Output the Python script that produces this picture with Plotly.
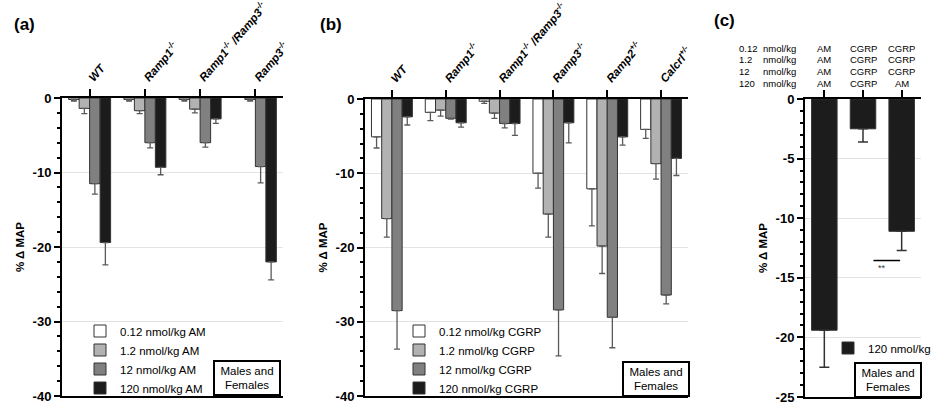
import plotly.graph_objects as go

# ---------------- data ----------------
genotypes_a = ["WT", "Ramp1-/-", "Ramp1-/- /Ramp3-/-", "Ramp3-/-"]
am_doses = ["0.12 nmol/kg AM", "1.2 nmol/kg AM", "12 nmol/kg AM", "120 nmol/kg AM"]
am_0_12 = [-0.2, -0.2, -0.2, None]
am_0_12_err = [0.2, 0.2, 0.2, 0]
am_1_2 = [-1.4, -1.7, -1.5, -0.2]
am_1_2_err = [0.7, 0.4, 0.5, 0.2]
am_12 = [-11.5, -6.0, -6.0, -9.2]
am_12_err = [1.4, 0.7, 0.6, 2.2]
am_120 = [-19.4, -9.3, -2.8, -22.0]
am_120_err = [3.0, 1.0, 0.6, 2.4]

genotypes_b = ["WT", "Ramp1-/-", "Ramp1-/- /Ramp3-/-", "Ramp3-/-", "Ramp2+/-", "Calcrl+/-"]
cgrp_doses = ["0.12 nmol/kg CGRP", "1.2 nmol/kg CGRP", "12 nmol/kg CGRP", "120 nmol/kg CGRP"]
cgrp_0_12 = [-5.1, -1.8, -0.3, -10.0, -12.1, -4.1]
cgrp_0_12_err = [1.5, 1.1, 0.3, 2.0, 5.0, 1.2]
cgrp_1_2 = [-16.1, -1.5, -1.9, -15.5, -19.8, -8.7]
cgrp_1_2_err = [2.5, 0.8, 0.7, 3.1, 3.7, 2.1]
cgrp_12 = [-28.5, -2.6, -3.3, -28.4, -29.4, -26.4]
cgrp_12_err = [5.2, 0.1, 0.6, 6.2, 4.1, 1.2]
cgrp_120 = [-2.4, -3.2, -3.3, -3.2, -5.1, -8.0]
cgrp_120_err = [1.1, 0.6, 1.6, 2.7, 1.1, 2.3]

protocols_c = ["AM", "CGRP", "CGRP+AM"]
header_doses = ["0.12", "1.2", "12", "120"]
header_col1 = ["AM", "AM", "AM", "AM"]
header_col2 = ["CGRP", "CGRP", "CGRP", "CGRP"]
header_col3 = ["CGRP", "CGRP", "CGRP", "AM"]
final_120 = [-19.4, -2.5, -11.1]
final_120_err = [3.1, 1.1, 1.6]
legend_c = "120 nmol/kg"

ticks_ab = [-40, -30, -20, -10, 0]
ticks_ab_text = ["-40", "-30", "-20", "-10", "0"]
ticks_c = [-25, -20, -15, -10, -5, 0]
ticks_c_text = ["-25", "-20", "-15", "-10", "-5", "0"]

# ---------------- style ----------------
W, H = 933, 408
FONT = "Liberation Sans, Arial, sans-serif"
FILLS = ["#ffffff", "#b2b2b2", "#808080", "#1c1c1c"]
OUTLINE = "#333333"
ERRC = "#5a5a5a"


def px(x):
    return x / W


def py(y):
    return 1 - y / H


def fmt(g):
    return g.replace("-/-", "<sup>-/-</sup>").replace("+/-", "<sup>+/-</sup>")


def err(e):
    return dict(type="data", symmetric=False, array=[0] * len(e), arrayminus=e,
                color=ERRC, thickness=1.3, width=3)


fig = go.Figure()

series_a = [(am_0_12, am_0_12_err), (am_1_2, am_1_2_err), (am_12, am_12_err), (am_120, am_120_err)]
for i, (vals, e) in enumerate(series_a):
    fig.add_trace(go.Bar(x=genotypes_a, y=vals, name=am_doses[i], error_y=err(e),
                         marker=dict(color=FILLS[i], line=dict(color=OUTLINE, width=1)),
                         xaxis="x", yaxis="y", legend="legend"))

series_b = [(cgrp_0_12, cgrp_0_12_err), (cgrp_1_2, cgrp_1_2_err), (cgrp_12, cgrp_12_err), (cgrp_120, cgrp_120_err)]
for i, (vals, e) in enumerate(series_b):
    fig.add_trace(go.Bar(x=genotypes_b, y=vals, name=cgrp_doses[i], error_y=err(e),
                         marker=dict(color=FILLS[i], line=dict(color=OUTLINE, width=1)),
                         xaxis="x2", yaxis="y2", legend="legend2"))

fig.add_trace(go.Bar(x=protocols_c, y=final_120, name=legend_c, width=0.66,
                     error_y=dict(type="data", symmetric=False, array=[0] * 3, arrayminus=final_120_err,
                                  color="#333333", thickness=1.5, width=5),
                     marker=dict(color=FILLS[3], line=dict(color=OUTLINE, width=1)),
                     xaxis="x3", yaxis="y3", legend="legend3"))

xcommon = dict(type="category", side="top", showline=True, linewidth=2, linecolor="black",
               mirror=True, ticks="outside", ticklen=7, tickwidth=2, tickcolor="black",
               showgrid=False, zeroline=False, tickangle=-50, automargin=False,
               tickfont=dict(family=FONT, size=11.5, color="black", weight="bold", style="italic"))

ycommon = dict(showline=True, linewidth=2, linecolor="black", ticks="outside", ticklen=6,
               tickwidth=2, tickcolor="black", showgrid=True, gridcolor="#e3e3e3", gridwidth=1,
               zeroline=False, automargin=False,
               tickfont=dict(family=FONT, size=13, color="black", weight="bold"),
               title=dict(text="% \u0394 MAP", font=dict(family=FONT, size=11.5, color="black", weight="bold"),
                          standoff=6))

fig.update_layout(
    width=W, height=H, margin=dict(l=0, r=0, t=0, b=0, autoexpand=False),
    paper_bgcolor="white", plot_bgcolor="white", template="plotly_white",
    barmode="group", bargap=0.24, bargroupgap=0,
    font=dict(family=FONT, color="black"),
    xaxis=dict(xcommon, domain=[px(62), px(283)], anchor="y",
               tickvals=genotypes_a, ticktext=[fmt(g) for g in genotypes_a]),
    yaxis=dict(ycommon, domain=[py(396), py(98)], anchor="x", range=[-40, 0],
               tickvals=ticks_ab, ticktext=ticks_ab_text,
               minor=dict(ticks="outside", ticklen=3, tickwidth=1.5, tickcolor="black", dtick=2, showgrid=False)),
    xaxis2=dict(xcommon, domain=[px(365), px(688)], anchor="y2",
                tickvals=genotypes_b, ticktext=[fmt(g) for g in genotypes_b]),
    yaxis2=dict(ycommon, domain=[py(396), py(99)], anchor="x2", range=[-40, 0],
                tickvals=ticks_ab, ticktext=ticks_ab_text,
                minor=dict(ticks="outside", ticklen=3, tickwidth=1.5, tickcolor="black", dtick=2, showgrid=False)),
    xaxis3=dict(xcommon, domain=[px(805), px(921)], anchor="y3", showticklabels=False),
    yaxis3=dict(ycommon, domain=[py(397), py(99)], anchor="x3", range=[-25, 0],
                tickvals=ticks_c, ticktext=ticks_c_text,
                minor=dict(ticks="outside", ticklen=3, tickwidth=1.5, tickcolor="black", dtick=1, showgrid=False)),
    legend=dict(x=px(80), y=py(359.5), xanchor="left", yanchor="middle", bgcolor="rgba(0,0,0,0)",
                font=dict(family=FONT, size=11.5, color="black"), traceorder="normal"),
    legend2=dict(x=px(399), y=py(359.5), xanchor="left", yanchor="middle", bgcolor="rgba(0,0,0,0)",
                 font=dict(family=FONT, size=11.5, color="black"), traceorder="normal"),
    legend3=dict(x=px(828), y=py(348), xanchor="left", yanchor="middle", bgcolor="rgba(0,0,0,0)",
                 font=dict(family=FONT, size=11.5, color="black")),
    showlegend=True,
)

annos = []
for txt, x, y in [("(a)", 24, 24), ("(b)", 331, 24), ("(c)", 724, 20)]:
    annos.append(dict(text=txt, x=px(x), y=py(y), xref="paper", yref="paper", showarrow=False,
                      xanchor="center", yanchor="middle",
                      font=dict(family=FONT, size=17, color="black", weight="bold")))

for cx, cy in [(247, 378), (655.5, 379), (888, 380)]:
    annos.append(dict(text="Males and<br>Females", x=px(cx), y=py(cy), xref="paper", yref="paper",
                      xanchor="center", yanchor="middle",
                      showarrow=False, bordercolor="black", borderwidth=2, borderpad=1,
                      width=62, height=30, bgcolor="white",
                      font=dict(family=FONT, size=11.5, color="black")))

row_y = [48, 59.7, 71.4, 83.1]
HFONT = dict(family=FONT, size=9.5, color="black")
for r in range(4):
    annos.append(dict(text=header_doses[r], x=px(738), y=py(row_y[r]), xref="paper", yref="paper",
                      xanchor="left", yanchor="middle", showarrow=False, borderpad=0, font=HFONT))
    annos.append(dict(text="nmol/kg", x=px(762), y=py(row_y[r]), xref="paper", yref="paper",
                      xanchor="left", yanchor="middle", showarrow=False, borderpad=0, font=HFONT))
    for ci, col in enumerate([header_col1, header_col2, header_col3]):
        annos.append(dict(text=col[r], x=protocols_c[ci], y=py(row_y[r]), xref="x3", yref="paper",
                          xanchor="center", yanchor="middle", showarrow=False, borderpad=0, font=HFONT))

annos.append(dict(text="**", x=1.5, y=-14.2, xref="x3", yref="y3", showarrow=False,
                  xanchor="center", yanchor="middle",
                  font=dict(family=FONT, size=9, color="#333333")))
fig.update_layout(annotations=annos)

fig.add_shape(type="line", x0=1.27, x1=1.96, y0=-13.55, y1=-13.55, xref="x3", yref="y3",
              line=dict(color="black", width=1.5))

fig.write_html("out.html", config={"displayModeBar": False},
               post_script="document.body.style.margin='0';document.body.style.padding='0';")
